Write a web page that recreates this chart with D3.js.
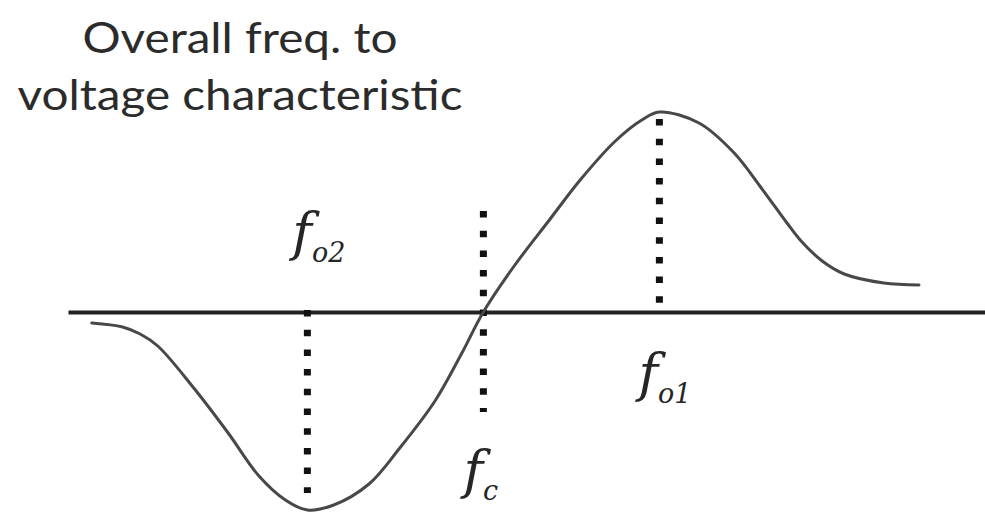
<!DOCTYPE html>
<html>
<head>
<meta charset="utf-8">
<script src="https://cdn.jsdelivr.net/npm/d3@7"></script>
<style>
  html, body { margin: 0; padding: 0; background: #fff; }
  svg { display: block; }
</style>
</head>
<body>
<div id="chart"></div>
<script>
// Discriminator output voltage versus frequency (S-curve)
const freq = [5.5, 9, 11, 13, 17, 21, 24.5, 27.5, 30, 33, 37, 40.5, 44.5, 47.5, 50,
              53.5, 57.5, 61, 65, 68, 70, 74.5, 78.5, 81.5, 84.5, 86, 88.5, 91, 95.5, 99.5];
const volt = [-0.055, -0.075, -0.11, -0.17, -0.375, -0.605, -0.82, -0.94, -0.99, -0.965,
              -0.86, -0.68, -0.445, -0.21, 0, 0.23, 0.46, 0.66, 0.855, 0.96, 1.0,
              0.945, 0.795, 0.625, 0.445, 0.36, 0.255, 0.19, 0.145, 0.135];

// Reference frequencies marked with dotted drop lines
const markerNames = ["o2", "c", "o1"];
const markerFreq  = [30, 50, 70];
const markerTop   = [0.01, 0.505, 0.965];
const markerBottom = [-0.905, -0.5, -0.015];

const titleLines = ["Overall freq. to", "voltage characteristic"];

const W = 985, H = 514;
const svg = d3.select("#chart").append("svg")
  .attr("width", W).attr("height", H);

const x = d3.scaleLinear().domain([2.8, 107]).range([68, 985]);
const y = d3.scaleLinear().domain([-1, 1]).range([512, 112]);

// Title
const title = svg.append("text")
  .attr("text-anchor", "middle")
  .attr("font-family", "Lato, 'Open Sans', sans-serif")
  .attr("font-size", 43)
  .attr("fill", "#2b2b2b");
const titleWidths = [315, 445];
titleLines.forEach((t, i) => {
  title.append("tspan")
    .attr("x", 240)
    .attr("y", 53 + i * 57)
    .attr("textLength", titleWidths[i])
    .attr("lengthAdjust", "spacingAndGlyphs")
    .text(t);
});

// Frequency axis (zero-voltage line)
const axis = svg.append("g")
  .attr("transform", `translate(0,${y(0)})`)
  .call(d3.axisBottom(x).tickValues([]).tickSizeOuter(0));
axis.select(".domain")
  .attr("stroke", "#222")
  .attr("stroke-width", 4);

// Dotted drop lines
const markers = markerNames.map((n, i) => ({
  name: n, f: markerFreq[i], top: markerTop[i], bottom: markerBottom[i]
}));

svg.append("g").selectAll("line")
  .data(markers)
  .join("line")
  .attr("x1", d => x(d.f)).attr("x2", d => x(d.f))
  .attr("y1", d => y(d.top)).attr("y2", d => y(d.bottom))
  .attr("stroke", "#111")
  .attr("stroke-width", 7)
  .attr("stroke-dasharray", "6.5 13.2");

// S-curve
const pts = freq.map((f, i) => [f, volt[i]]);
svg.append("path")
  .datum(pts)
  .attr("fill", "none")
  .attr("stroke", "#484848")
  .attr("stroke-width", 3)
  .attr("stroke-linecap", "round")
  .attr("d", d3.line()
    .x(d => x(d[0]))
    .y(d => y(d[1]))
    .curve(d3.curveCatmullRom.alpha(0.5)));

// Frequency labels
const labelPos = {
  o2: { dx: -15, base: 250 },
  c:  { dx: -20, base: 488 },
  o1: { dx: -21, base: 391 }
};
markers.forEach(m => {
  const p = labelPos[m.name];
  const t = svg.append("text")
    .attr("x", x(m.f) + p.dx)
    .attr("y", p.base)
    .attr("font-family", "'DejaVu Serif', 'Liberation Serif', serif")
    .attr("font-style", "italic")
    .attr("fill", "#262626");
  t.append("tspan").attr("font-size", 53).text("f");
  t.append("tspan").attr("font-size", 27).attr("dy", 12).text(m.name);
});
</script>
</body>
</html>
